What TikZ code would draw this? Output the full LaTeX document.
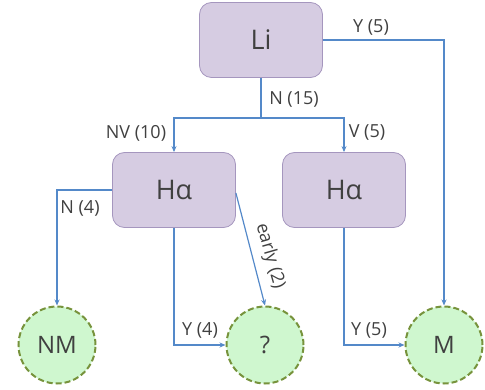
\documentclass[tikz,border=0pt]{standalone}
\usepackage{fontspec}
\setmainfont{Open Sans}
\usetikzlibrary{arrows.meta}
\definecolor{boxfill}{RGB}{214,204,226}
\definecolor{boxline}{RGB}{165,150,190}
\definecolor{leaffill}{RGB}{207,247,207}
\definecolor{leafline}{RGB}{119,147,60}
\definecolor{wire}{RGB}{84,137,201}
\definecolor{ink}{RGB}{64,64,64}
\tikzset{
  testbox/.style={draw=boxline, fill=boxfill, rounded corners=12pt, minimum width=123pt, minimum height=75pt, line width=0.8pt, text=ink, font=\fontsize{27}{30}\selectfont},
  leaf/.style={circle, draw=leafline, fill=leaffill, dashed, dash pattern=on 6pt off 3pt, line width=2pt, minimum size=77pt, inner sep=0pt, text=ink, font=\fontsize{24}{28}\selectfont},
  link/.style={draw=wire, line width=1.2pt, -{Stealth[length=6pt,width=5pt]}},
  tag/.style={text=ink, font=\fontsize{18}{20}\selectfont, inner sep=0pt}
}
\begin{document}
\begin{tikzpicture}[x=1pt,y=-1pt]
\useasboundingbox (0,0) rectangle (485,390);
% decision boxes
\node[testbox] (li) at (261,40) {Li};
\node[testbox] (ha1) at (174,190) {Hα};
\node[testbox] (ha2) at (344,190) {Hα};
% outcomes
\node[leaf] (nm) at (57,345) {NM};
\node[leaf] (q) at (265,345) {?};
\node[leaf] (m) at (444,345) {M};
% split point under Li
\coordinate (split) at (261,118);
\draw[draw=wire, line width=1.2pt] (li.south) -- (split);
\draw[link] (split) -| (ha1.north);
\draw[link] (split) -| (ha2.north);
\draw[link] (li.east) -| (m.north);
\draw[link] (ha1.west) -| (nm.north);
\draw[link] (ha1.south) |- (q.west);
\draw[link] (ha1.east) ++(0,3) coordinate (ea) -- (q.north);
\draw[link] (ha2.south) |- (m.west);
% branch labels
\node[tag] at (371,28) {Y (5)};
\node[tag] at (294,100) {N (15)};
\node[tag] at (136,133) {NV (10)};
\node[tag] at (367,133) {V (5)};
\node[tag] at (80,208) {N (4)};
\node[tag] at (200,330) {Y (4)};
\node[tag] at (369,330) {Y (5)};
\node[tag, rotate=-74] at (270,256) {early (2)};
\end{tikzpicture}
\end{document}
